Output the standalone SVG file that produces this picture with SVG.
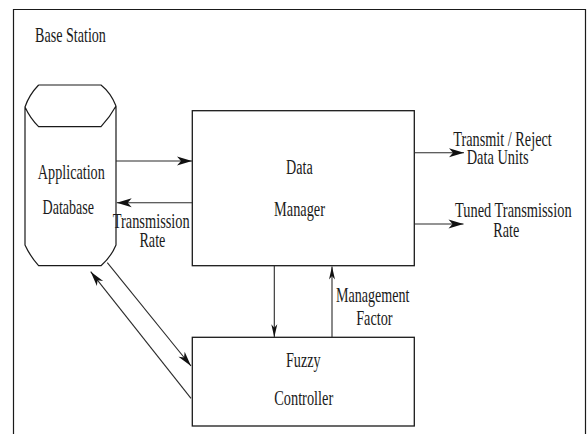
<svg xmlns="http://www.w3.org/2000/svg" width="587" height="434" viewBox="0 0 587 434">
<style>
.t{font-family:"Liberation Serif","Times New Roman",serif;font-size:20px;fill:#1a1a1a}
.m{text-anchor:middle}
.box{fill:#fff;stroke:#1a1a1a;stroke-width:1.3}
.ln{fill:none;stroke:#2a2a2a;stroke-width:1.1}
.cyl{fill:none;stroke:#1a1a1a;stroke-width:1.2}
</style>
<defs>
<marker id="ah" markerUnits="userSpaceOnUse" markerWidth="15" markerHeight="9" refX="15" refY="4.5" orient="auto" overflow="visible">
<path d="M0,0 L15,4.5 L0,9 L4,4.5 Z" fill="#111"/>
</marker>
<marker id="av" markerUnits="userSpaceOnUse" markerWidth="13" markerHeight="6" refX="13" refY="3" orient="auto" overflow="visible">
<path d="M0,0 L13,3 L0,6 L3.5,3 Z" fill="#111"/>
</marker>
<marker id="ad" markerUnits="userSpaceOnUse" markerWidth="15" markerHeight="8" refX="15" refY="4" orient="auto" overflow="visible">
<path d="M0,0 L15,4 L0,8 L4,4 Z" fill="#111"/>
</marker>
</defs>
<rect width="587" height="434" fill="#fff"/>
<g id="frame">
<path d="M13.5,440 V9.5 H585.5 V440" fill="none" stroke="#1a1a1a" stroke-width="1.2"/>
<text class="t" transform="matrix(0.706,0,0,1,35,41.7)">Base Station</text>
</g>
<g id="app-db">
<path class="cyl" d="M38.6,85 H101 Q111,93 116,106 M38.6,85 Q29,95 25,107 Q30,118 38.6,126.7 H101 Q110,117 116,106 V245 Q111,257 101,265.7 H38.6 Q30,256 25,245 V107"/>
<text class="t m" transform="matrix(0.709,0,0,1,71.3,178.5)">Application</text>
<text class="t m" transform="matrix(0.703,0,0,1,68.3,213.5)">Database</text>
</g>
<g id="data-manager">
<rect class="box" x="192.3" y="110.7" width="222" height="155"/>
<text class="t m" transform="matrix(0.707,0,0,1,299.4,174)">Data</text>
<text class="t m" transform="matrix(0.717,0,0,1,299.5,215.7)">Manager</text>
</g>
<g id="fuzzy-controller">
<rect class="box" x="192.3" y="337.3" width="222" height="88.7"/>
<text class="t m" transform="matrix(0.71,0,0,1,303.3,367.3)">Fuzzy</text>
<text class="t m" transform="matrix(0.718,0,0,1,303.7,405)">Controller</text>
</g>
<g id="connectors">
<path class="ln" d="M116,161 H192" marker-end="url(#ah)"/>
<path class="ln" d="M192.3,202.7 H116.7" marker-end="url(#ah)"/>
<path class="ln" d="M414.3,152.7 H464" marker-end="url(#ah)"/>
<path class="ln" d="M414.3,224 H463.5" marker-end="url(#ah)"/>
<path class="ln" d="M274.3,265.7 V337.3" marker-end="url(#av)"/>
<path class="ln" d="M332,337.3 V266.5" marker-end="url(#av)"/>
<path class="ln" d="M107.3,262.7 L191,366" marker-end="url(#ad)"/>
<path class="ln" d="M191,398.3 L90.7,271.7" marker-end="url(#ad)"/>
</g>
<g id="labels">
<text class="t" transform="matrix(0.72,0,0,1,112.7,227.5)">Transmission</text>
<text class="t m" transform="matrix(0.709,0,0,1,152.4,247)">Rate</text>
<text class="t" transform="matrix(0.713,0,0,1,453.3,145.7)">Transmit / Reject</text>
<text class="t" transform="matrix(0.72,0,0,1,466.7,164.3)">Data Units</text>
<text class="t" transform="matrix(0.72,0,0,1,455,216.7)">Tuned Transmission</text>
<text class="t m" transform="matrix(0.709,0,0,1,506.3,236.7)">Rate</text>
<text class="t" transform="matrix(0.704,0,0,1,336,302)">Management</text>
<text class="t m" transform="matrix(0.714,0,0,1,374.4,325)">Factor</text>
</g>
</svg>
